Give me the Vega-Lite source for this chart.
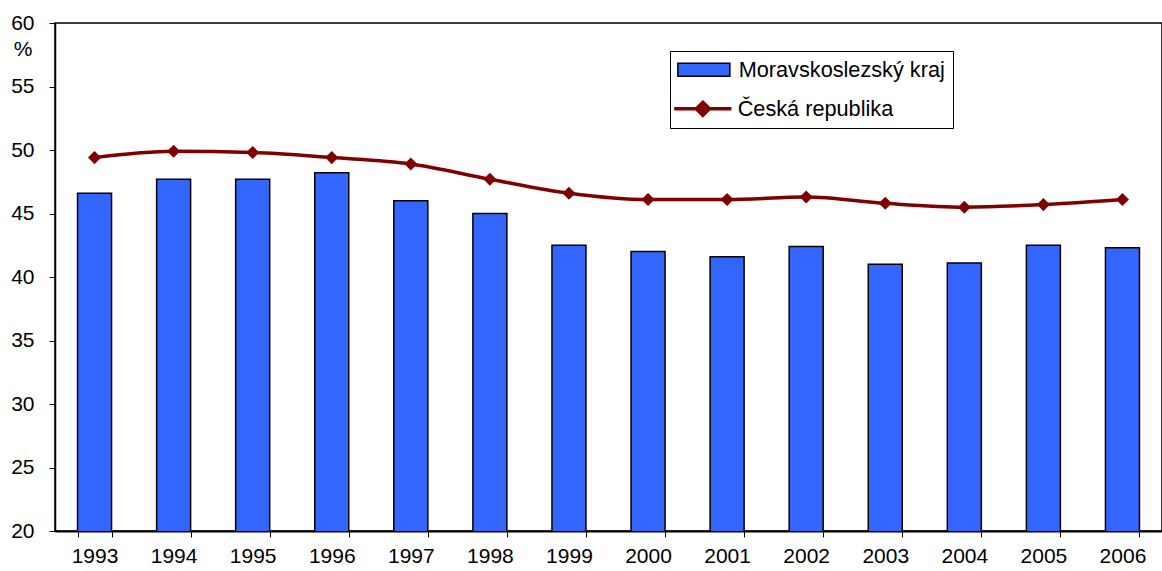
{
  "$schema": "https://vega.github.io/schema/vega-lite/v6.json",
  "width": 1107,
  "height": 508,
  "autosize": {"type": "none"},
  "padding": {"left": 55, "top": 23, "right": 0, "bottom": 40},
  "background": "white",
  "config": {
    "font": "Liberation Sans",
    "view": {"stroke": "black", "strokeWidth": 1.5}
  },
  "data": {
    "values": [
      {"year": "1993", "series": "Moravskoslezský kraj", "value": 46.6},
      {"year": "1994", "series": "Moravskoslezský kraj", "value": 47.7},
      {"year": "1995", "series": "Moravskoslezský kraj", "value": 47.7},
      {"year": "1996", "series": "Moravskoslezský kraj", "value": 48.2},
      {"year": "1997", "series": "Moravskoslezský kraj", "value": 46.0},
      {"year": "1998", "series": "Moravskoslezský kraj", "value": 45.0},
      {"year": "1999", "series": "Moravskoslezský kraj", "value": 42.5},
      {"year": "2000", "series": "Moravskoslezský kraj", "value": 42.0},
      {"year": "2001", "series": "Moravskoslezský kraj", "value": 41.6},
      {"year": "2002", "series": "Moravskoslezský kraj", "value": 42.4},
      {"year": "2003", "series": "Moravskoslezský kraj", "value": 41.0},
      {"year": "2004", "series": "Moravskoslezský kraj", "value": 41.1},
      {"year": "2005", "series": "Moravskoslezský kraj", "value": 42.5},
      {"year": "2006", "series": "Moravskoslezský kraj", "value": 42.3},
      {"year": "1993", "series": "Česká republika", "value": 49.4},
      {"year": "1994", "series": "Česká republika", "value": 49.9},
      {"year": "1995", "series": "Česká republika", "value": 49.8},
      {"year": "1996", "series": "Česká republika", "value": 49.4},
      {"year": "1997", "series": "Česká republika", "value": 48.9},
      {"year": "1998", "series": "Česká republika", "value": 47.7},
      {"year": "1999", "series": "Česká republika", "value": 46.6},
      {"year": "2000", "series": "Česká republika", "value": 46.1},
      {"year": "2001", "series": "Česká republika", "value": 46.1},
      {"year": "2002", "series": "Česká republika", "value": 46.3},
      {"year": "2003", "series": "Česká republika", "value": 45.8},
      {"year": "2004", "series": "Česká republika", "value": 45.5},
      {"year": "2005", "series": "Česká republika", "value": 45.7},
      {"year": "2006", "series": "Česká republika", "value": 46.1}
    ]
  },
  "encoding": {
    "x": {
      "field": "year",
      "type": "ordinal",
      "scale": {"paddingInner": 0.57, "paddingOuter": 0.285},
      "axis": {
        "title": null,
        "labelAngle": 0,
        "labelFontSize": 21,
        "labelColor": "black",
        "labelPadding": 8,
        "domainColor": "black",
        "domainWidth": 2,
        "tickColor": "black",
        "tickSize": 6,
        "tickWidth": 1,
        "tickBand": "extent",
        "grid": false
      }
    },
    "y": {
      "field": "value",
      "type": "quantitative",
      "scale": {"domain": [20, 60], "nice": false, "zero": false},
      "axis": {
        "values": [20, 25, 30, 35, 40, 45, 50, 55, 60],
        "grid": false,
        "labelFontSize": 21,
        "labelColor": "black",
        "labelPadding": 15,
        "domainColor": "black",
        "domainWidth": 1.5,
        "tickColor": "black",
        "tickSize": 6,
        "tickWidth": 1,
        "title": "%",
        "titleAngle": 0,
        "titleX": -32.5,
        "titleY": 26.5,
        "titleAlign": "center",
        "titleBaseline": "middle",
        "titleFontWeight": "normal",
        "titleFontSize": 21,
        "titleColor": "black"
      }
    }
  },
  "layer": [
    {
      "transform": [{"filter": "datum.series === 'Moravskoslezský kraj'"}],
      "mark": {"type": "bar", "stroke": "black", "strokeWidth": 1.5, "clip": true},
      "encoding": {
        "fill": {
          "field": "series",
          "type": "nominal",
          "scale": {"domain": ["Moravskoslezský kraj"], "range": ["#3366ff"]},
          "legend": {
            "title": " ",
            "titleOrient": "bottom",
            "titleFontSize": 21,
            "titlePadding": 17,
            "orient": "none",
            "legendX": 615,
            "legendY": 28,
            "strokeColor": "black",
            "padding": 8,
            "labelFontSize": 21.7,
            "labelColor": "black",
            "labelFont": "Liberation Sans",
            "labelLimit": 0,
            "symbolType": "M-4,-1H4V1H-4Z",
            "symbolSize": 169,
            "symbolStrokeColor": "black",
            "symbolStrokeWidth": 1.5,
            "symbolOpacity": 1,
            "symbolOffset": 15,
            "labelOffset": 24
          }
        }
      }
    },
    {
      "transform": [{"filter": "datum.series === 'Česká republika'"}],
      "mark": {"type": "line", "strokeWidth": 3.5, "interpolate": "monotone"},
      "encoding": {
        "stroke": {
          "field": "series",
          "type": "nominal",
          "scale": {"domain": ["Česká republika"], "range": ["#800000"]},
          "legend": {
            "title": null,
            "orient": "none",
            "legendX": 623,
            "legendY": 75,
            "padding": 0,
            "labelFontSize": 21.7,
            "labelColor": "black",
            "labelFont": "Liberation Sans",
            "labelLimit": 0,
            "symbolType": "M-4.4,0H4.4M0,-1L1,0L0,1L-1,0Z",
            "symbolSize": 169,
            "symbolFillColor": "#800000",
            "symbolStrokeWidth": 3.5,
            "symbolOpacity": 1,
            "symbolOffset": 14,
            "labelOffset": 24
          }
        }
      }
    },
    {
      "transform": [{"filter": "datum.series === 'Česká republika'"}],
      "mark": {"type": "point", "shape": "diamond", "size": 170, "filled": true, "color": "#800000", "opacity": 1}
    }
  ]
}
